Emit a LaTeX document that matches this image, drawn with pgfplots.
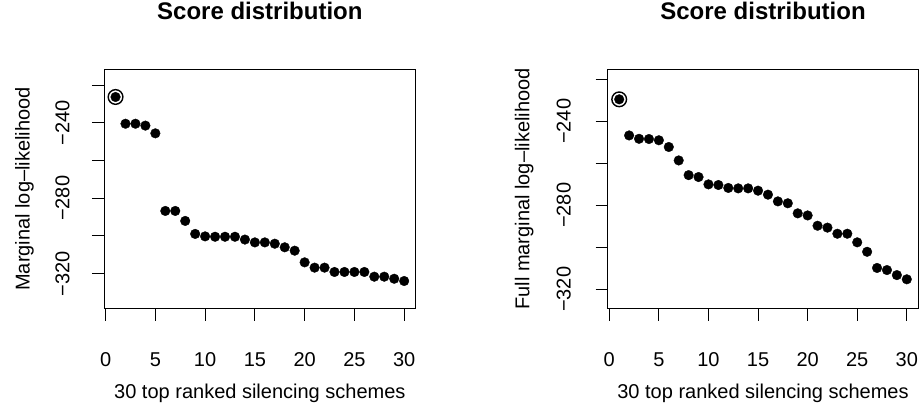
\documentclass[border=0pt]{standalone}
\usepackage{pgfplots}
\pgfplotsset{compat=1.18}
\usepackage{fontspec}
\setmainfont{Liberation Sans}

% left panel: marginal log-likelihood of the 30 top ranked schemes
\pgfplotstableread{
x y
1 -226.2
2 -240.4
3 -240.4
4 -241.4
5 -245.5
6 -286.7
7 -286.7
8 -292.0
9 -298.9
10 -300.2
11 -300.4
12 -300.4
13 -300.4
14 -301.9
15 -303.4
16 -303.4
17 -304.1
18 -306.0
19 -307.8
20 -314.0
21 -316.8
22 -316.8
23 -319.1
24 -319.1
25 -319.1
26 -319.1
27 -321.6
28 -321.6
29 -322.7
30 -323.9
}\margtab

% right panel: full marginal log-likelihood
\pgfplotstableread{
x y
1 -229.5
2 -246.7
3 -248.3
4 -248.4
5 -249.0
6 -252.2
7 -258.6
8 -265.6
9 -266.5
10 -270.0
11 -270.3
12 -271.7
13 -271.9
14 -271.9
15 -273.0
16 -274.9
17 -278.1
18 -279.0
19 -283.8
20 -284.8
21 -289.7
22 -290.6
23 -293.5
24 -293.5
25 -297.6
26 -302.1
27 -309.8
28 -310.8
29 -313.2
30 -315.2
}\fulltab

\pgfplotsset{
  rpanel/.style={
    scale only axis,
    anchor=south west,
    height=143.64pt,
    xmin=-0.16, xmax=31.16,
    axis line style={black, line width=0.6pt},
    tick style={black, line width=0.6pt},
    tick align=outside,
    tick pos=left,
    major tick length=7.2pt,
    xtick={0,5,...,30},
    xticklabels={0,5,10,15,20,25,30},
    ytick={-320,-280,-240},
    yticklabels={−320,−280,−240},
    extra y ticks={-300,-260,-220},
    extra y tick labels={},
    extra y tick style={tick style={black, line width=0.6pt}},
    tick label style={font=\fontsize{12pt}{14pt}\selectfont},
    xticklabel style={anchor=base, inner sep=0pt, yshift=-27.2pt},
    label style={font=\fontsize{12pt}{14pt}\selectfont},
    xlabel style={at={(axis description cs:0.5,-0.377)}, anchor=base, inner sep=0pt},
    title style={at={(axis description cs:0.5,1)}, anchor=base, inner sep=0pt,
      yshift=24pt, font=\bfseries\fontsize{14.4pt}{17pt}\selectfont},
    title={Score distribution},
    xlabel={30 top ranked silencing schemes},
  },
  dots/.style={only marks, mark=*, mark size=2.9pt, black, mark options={fill=black, draw=black, line width=0.2pt}},
  ring/.style={only marks, mark=o, mark size=4.4pt, black, mark options={line width=0.85pt}},
}

\begin{document}
\begin{tikzpicture}
\useasboundingbox (0,0) rectangle (551.4pt,243pt);

\begin{axis}[rpanel,
  at={(62.4pt,57.78pt)},
  width=187.02pt,
  ymin=-338.6, ymax=-211.5,
  yticklabel style={xshift=-13.5pt, rotate=90, anchor=base, inner sep=0pt},
  ylabel style={at={(axis description cs:-0.239,0.5)}, rotate=0, anchor=base, inner sep=0pt},
  ylabel={Marginal log–likelihood},
]
\addplot[dots] table[x=x, y=y] {\margtab};
\addplot[ring] coordinates {(1,-226.2)};
\end{axis}

\begin{axis}[rpanel,
  at={(364.62pt,57.78pt)},
  width=186.36pt,
  ymin=-329.2, ymax=-215.2,
  yticklabel style={xshift=-15pt, rotate=90, anchor=base, inner sep=0pt},
  ylabel style={at={(axis description cs:-0.252,0.5)}, rotate=0, anchor=base, inner sep=0pt},
  ylabel={Full marginal log–likelihood},
]
\addplot[dots] table[x=x, y=y] {\fulltab};
\addplot[ring] coordinates {(1,-229.5)};
\end{axis}
\end{tikzpicture}
\end{document}
